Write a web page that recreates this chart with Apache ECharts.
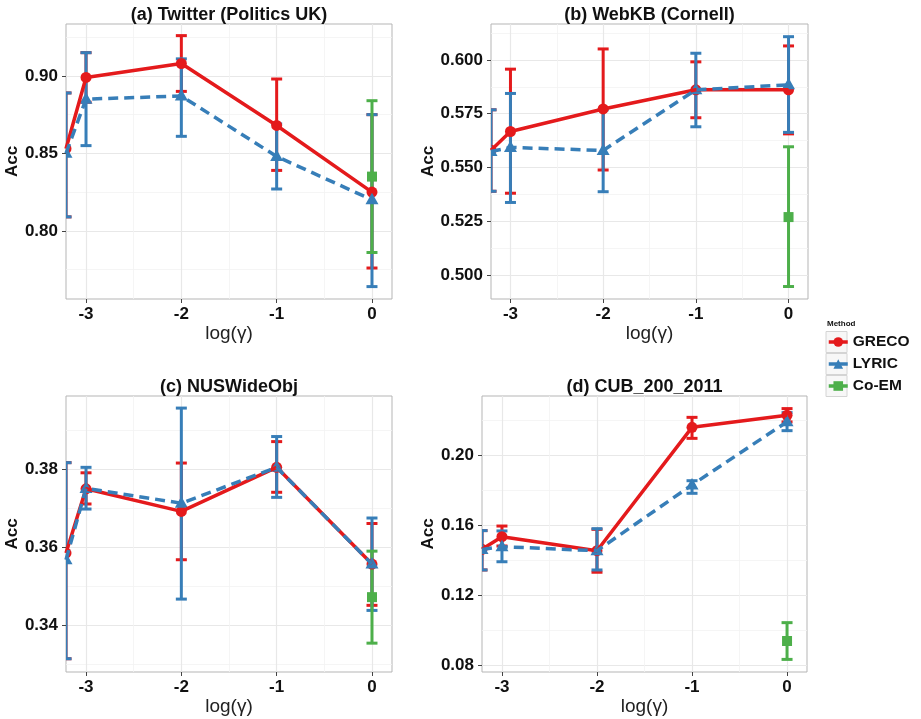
<!DOCTYPE html>
<html><head><meta charset="utf-8">
<script src="https://cdn.jsdelivr.net/npm/echarts@6/dist/echarts.min.js"></script>
<style>html,body{margin:0;padding:0;background:#fff}#c{width:921px;height:719px}</style>
</head><body><div id="c"></div>
<script>
const methods = ['GRECO', 'LYRIC', 'Co-EM'];
const logGamma = [-3.21, -3, -2, -1, 0];
const coemX = [0];
const panelTitles = ['(a) Twitter (Politics UK)', '(b) WebKB (Cornell)', '(c) NUSWideObj', '(d) CUB_200_2011'];
const xTicks = [-3, -2, -1, 0];
const xMinorTicks = [-2.5, -1.5, -0.5];
const xRange = [-3.21, 0.21];

// (a) Twitter (Politics UK)
const grecoA = [0.853, 0.899, 0.908, 0.868, 0.825];
const grecoALo = [0.809, 0.883, 0.890, 0.839, 0.776];
const grecoAHi = [0.889, 0.915, 0.926, 0.898, 0.875];
const lyricA = [0.850, 0.885, 0.887, 0.848, 0.820];
const lyricALo = [0.809, 0.855, 0.861, 0.827, 0.764];
const lyricAHi = [0.889, 0.915, 0.911, 0.869, 0.875];
const coemA = [0.835], coemALo = [0.786], coemAHi = [0.884];
const yTicksA = [0.80, 0.85, 0.90], yMinorA = [0.775, 0.825, 0.875, 0.925], yRangeA = [0.756, 0.9335];

// (b) WebKB (Cornell)
const grecoB = [0.558, 0.5667, 0.5772, 0.5861, 0.5861];
const grecoBLo = [0.5389, 0.538, 0.5488, 0.5731, 0.5656];
const grecoBHi = [0.5768, 0.5957, 0.6051, 0.5991, 0.6065];
const lyricB = [0.5574, 0.5593, 0.5579, 0.5861, 0.5884];
const lyricBLo = [0.5389, 0.5337, 0.5387, 0.5689, 0.5663];
const lyricBHi = [0.5768, 0.5844, 0.5768, 0.6031, 0.6108];
const coemB = [0.5269], coemBLo = [0.4946], coemBHi = [0.5596];
const yTicksB = [0.500, 0.525, 0.550, 0.575, 0.600], yMinorB = [0.5125, 0.5375, 0.5625, 0.5875, 0.6125], yRangeB = [0.4888, 0.6167];

// (c) NUSWideObj
const grecoC = [0.3584, 0.3749, 0.3691, 0.3804, 0.3556];
const grecoCLo = [0.3313, 0.371, 0.3567, 0.374, 0.345];
const grecoCHi = [0.3816, 0.379, 0.3815, 0.387, 0.366];
const lyricC = [0.3567, 0.3750, 0.3712, 0.3804, 0.3556];
const lyricCLo = [0.3313, 0.3697, 0.3466, 0.3727, 0.3437];
const lyricCHi = [0.3816, 0.3804, 0.3956, 0.3883, 0.3674];
const coemC = [0.3471], coemCLo = [0.3353], coemCHi = [0.3589];
const yTicksC = [0.34, 0.36, 0.38], yMinorC = [0.33, 0.35, 0.37, 0.39], yRangeC = [0.3279, 0.3987];

// (d) CUB_200_2011
const grecoD = [0.1461, 0.1533, 0.1453, 0.2158, 0.2227];
const grecoDLo = [0.1343, 0.148, 0.133, 0.2095, 0.2189];
const grecoDHi = [0.1568, 0.1594, 0.1575, 0.2215, 0.2265];
const lyricD = [0.146, 0.1476, 0.1453, 0.1829, 0.219];
const lyricDLo = [0.1343, 0.139, 0.1343, 0.1781, 0.2139];
const lyricDHi = [0.1568, 0.1566, 0.1579, 0.1853, 0.2242];
const coemD = [0.0937], coemDLo = [0.0832], coemDHi = [0.1042];
const yTicksD = [0.08, 0.12, 0.16, 0.20], yMinorD = [0.10, 0.14, 0.18, 0.22], yRangeD = [0.076, 0.2337];

const FONT = 'Liberation Sans, Arial, sans-serif';
const colors = { 'GRECO': '#E41A1C', 'LYRIC': '#377EB8', 'Co-EM': '#4DAF4A' };

const panels = [
  { title: panelTitles[0], grid: { left: 66, top: 24, width: 326, height: 275 }, yTicks: yTicksA, yMinor: yMinorA, yRange: yRangeA, dec: 2, nameGap: 42,
    data: { 'GRECO': [grecoA, grecoALo, grecoAHi, logGamma], 'LYRIC': [lyricA, lyricALo, lyricAHi, logGamma], 'Co-EM': [coemA, coemALo, coemAHi, coemX] } },
  { title: panelTitles[1], grid: { left: 491, top: 24, width: 317, height: 275 }, yTicks: yTicksB, yMinor: yMinorB, yRange: yRangeB, dec: 3, nameGap: 52,
    data: { 'GRECO': [grecoB, grecoBLo, grecoBHi, logGamma], 'LYRIC': [lyricB, lyricBLo, lyricBHi, logGamma], 'Co-EM': [coemB, coemBLo, coemBHi, coemX] } },
  { title: panelTitles[2], grid: { left: 66, top: 396, width: 326, height: 276 }, yTicks: yTicksC, yMinor: yMinorC, yRange: yRangeC, dec: 2, nameGap: 42,
    data: { 'GRECO': [grecoC, grecoCLo, grecoCHi, logGamma], 'LYRIC': [lyricC, lyricCLo, lyricCHi, logGamma], 'Co-EM': [coemC, coemCLo, coemCHi, coemX] } },
  { title: panelTitles[3], grid: { left: 482, top: 396, width: 325, height: 276 }, yTicks: yTicksD, yMinor: yMinorD, yRange: yRangeD, dec: 2, nameGap: 43,
    data: { 'GRECO': [grecoD, grecoDLo, grecoDHi, logGamma], 'LYRIC': [lyricD, lyricDLo, lyricDHi, logGamma], 'Co-EM': [coemD, coemDLo, coemDHi, coemX] } }
];

function clipOf(params) {
  const c = params.coordSys;
  return { type: 'rect', shape: { x: c.x, y: c.y, width: c.width, height: c.height } };
}
function errRender(color) {
  return function (params, api) {
    const x = api.value(0), lo = api.value(1), hi = api.value(2);
    const a = api.coord([x, lo]), b = api.coord([x, hi]);
    const hw = 5.5;
    const style = { stroke: color, lineWidth: 3, fill: null };
    return { type: 'group', clipPath: clipOf(params), children: [
      { type: 'line', shape: { x1: a[0], y1: a[1], x2: b[0], y2: b[1] }, style: style },
      { type: 'line', shape: { x1: a[0] - hw, y1: a[1], x2: a[0] + hw, y2: a[1] }, style: style },
      { type: 'line', shape: { x1: b[0] - hw, y1: b[1], x2: b[0] + hw, y2: b[1] }, style: style }
    ] };
  };
}
function pointRender(method, color) {
  return function (params, api) {
    const p = api.coord([api.value(0), api.value(1)]);
    let el;
    if (method === 'GRECO') el = { type: 'circle', shape: { cx: p[0], cy: p[1], r: 5.5 }, style: { fill: color } };
    else if (method === 'LYRIC') el = { type: 'polygon', shape: { points: [[p[0], p[1] - 7], [p[0] - 6.5, p[1] + 4.5], [p[0] + 6.5, p[1] + 4.5]] }, style: { fill: color } };
    else el = { type: 'rect', shape: { x: p[0] - 5, y: p[1] - 5, width: 10, height: 10 }, style: { fill: color } };
    return { type: 'group', clipPath: clipOf(params), children: [el] };
  };
}

const grids = [], xAxes = [], yAxes = [], series = [], graphics = [];
const symbolOf = { 'GRECO': 'circle', 'LYRIC': 'triangle', 'Co-EM': 'rect' };
panels.forEach((pn, g) => {
  grids.push(Object.assign({ show: true, borderColor: '#b5b5b5', borderWidth: 1, backgroundColor: '#fff', outerBoundsMode: 'none', containLabel: false }, pn.grid));
  xAxes.push({ type: 'value', gridIndex: g, min: xRange[0], max: xRange[1], position: 'bottom', name: 'log(γ)', nameLocation: 'middle', nameGap: 22,
    nameTextStyle: { fontFamily: FONT, fontSize: 19, color: '#222', verticalAlign: 'top' },
    axisLine: { show: false, onZero: false },
    axisTick: { show: true, length: 4, lineStyle: { color: '#444', width: 1 }, customValues: xTicks },
    axisLabel: { customValues: xTicks, margin: 7, fontFamily: FONT, fontSize: 17, fontWeight: 'bold', color: '#111', formatter: v => String(Math.round(v)) },
    splitLine: { show: true, lineStyle: { color: '#e8e8e8', width: 1.2 } } });
  yAxes.push({ type: 'value', gridIndex: g, min: pn.yRange[0], max: pn.yRange[1], position: 'left', name: 'Acc', nameLocation: 'middle', nameGap: pn.nameGap,
    nameTextStyle: { fontFamily: FONT, fontSize: 17, fontWeight: 'bold', color: '#111' },
    axisLine: { show: false, onZero: false },
    axisTick: { show: true, length: 4, lineStyle: { color: '#444', width: 1 }, customValues: pn.yTicks },
    axisLabel: { customValues: pn.yTicks, margin: 8, fontFamily: FONT, fontSize: 17, fontWeight: 'bold', color: '#111', formatter: v => v.toFixed(pn.dec) },
    splitLine: { show: true, lineStyle: { color: '#e8e8e8', width: 1.2 } } });
  graphics.push({ type: 'text', x: pn.grid.left + pn.grid.width / 2, y: pn.grid.top - 9,
    style: { text: pn.title, fontFamily: FONT, fontSize: 18, fontWeight: 'bold', fill: '#111', textAlign: 'center', textVerticalAlign: 'middle' } });
});
// minor grid axes
panels.forEach((pn, g) => {
  xAxes.push({ type: 'value', gridIndex: g, min: xRange[0], max: xRange[1], position: 'bottom', axisLine: { show: false, onZero: false }, axisLabel: { show: false },
    axisTick: { show: false, customValues: xMinorTicks }, splitLine: { show: true, lineStyle: { color: '#f3f3f3', width: 0.8 } } });
  yAxes.push({ type: 'value', gridIndex: g, min: pn.yRange[0], max: pn.yRange[1], position: 'left', axisLine: { show: false, onZero: false }, axisLabel: { show: false },
    axisTick: { show: false, customValues: pn.yMinor }, splitLine: { show: true, lineStyle: { color: '#f3f3f3', width: 0.8 } } });
});

panels.forEach((pn, g) => {
  methods.forEach(m => {
    const d = pn.data[m];
    series.push({ type: 'line', name: m, xAxisIndex: g, yAxisIndex: g, clip: true, animation: false,
      symbol: symbolOf[m], showSymbol: false, silent: true,
      data: d[3].map((x, i) => [x, d[0][i]]),
      itemStyle: { color: colors[m] },
      lineStyle: { color: colors[m], width: 3.5, type: m === 'LYRIC' ? [10, 6] : 'solid', cap: 'butt' } });
  });
  methods.forEach(m => {
    const d = pn.data[m];
    series.push({ type: 'custom', name: m, xAxisIndex: g, yAxisIndex: g, clip: true, animation: false, silent: true,
      itemStyle: { color: colors[m] }, encode: { x: 0, y: [1, 2] },
      data: d[3].map((x, i) => [x, d[1][i], d[2][i]]), renderItem: errRender(colors[m]) });
  });
  methods.forEach(m => {
    const d = pn.data[m];
    series.push({ type: 'custom', name: m, xAxisIndex: g, yAxisIndex: g, clip: true, animation: false, silent: true,
      itemStyle: { color: colors[m] }, encode: { x: 0, y: 1 },
      data: d[3].map((x, i) => [x, d[0][i]]), renderItem: pointRender(m, colors[m]) });
  });
});

graphics.push({ type: 'text', x: 827, y: 324, style: { text: 'Method', fontFamily: FONT, fontSize: 8, fontWeight: 'bold', fill: '#111', textVerticalAlign: 'middle' } });
[342, 364, 386].forEach(cy => {
  graphics.push({ type: 'rect', z: -1, shape: { x: 826, y: cy - 10.5, width: 21, height: 21 }, style: { fill: '#f7f7f7', stroke: '#d4d4d4', lineWidth: 1 } });
});

const chart = echarts.init(document.getElementById('c'), null, { renderer: 'canvas' });
chart.setOption({
  animation: false,
  backgroundColor: '#fff',
  grid: grids,
  xAxis: xAxes,
  yAxis: yAxes,
  legend: { data: methods, orient: 'vertical', left: 822, top: 328, padding: 5, itemWidth: 19, itemHeight: 12, itemGap: 4, selectedMode: false,
    lineStyle: { type: 'solid', width: 3.5 },
    textStyle: { fontFamily: FONT, fontSize: 15.5, fontWeight: 'bold', color: '#111', lineHeight: 18 } },
  graphic: graphics,
  series: series
});
</script></body></html>
